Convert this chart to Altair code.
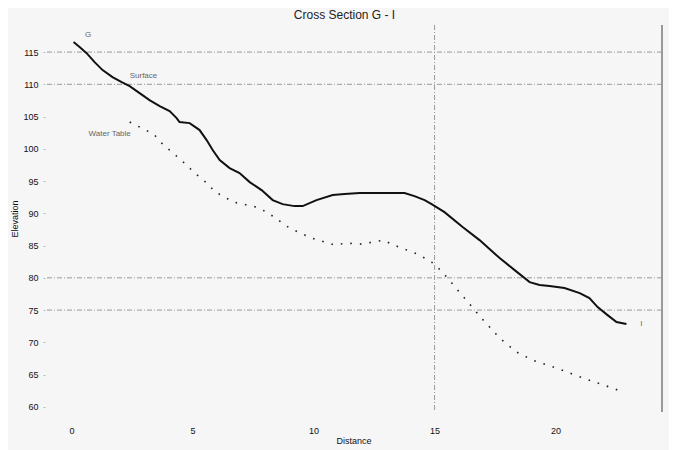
import altair as alt
import pandas as pd

# Surface profile (distance, elevation)
surf_x = [0.08, 0.33, 0.62, 0.95, 1.28, 1.69, 2.07, 2.40, 2.81, 3.22, 3.64, 4.05, 4.34, 4.46, 4.88,
          5.29, 5.58, 5.83, 6.12, 6.53, 6.94, 7.36, 7.85, 8.31, 8.72, 9.21, 9.55, 10.12, 10.79, 11.28,
          11.90, 12.73, 13.76, 14.17, 14.59, 14.88, 15.41, 16.16, 16.86, 17.69, 18.31, 18.93, 19.34,
          19.75, 20.37, 21.00, 21.40, 21.74, 22.15, 22.52, 22.93]
surf_y = [116.55, 115.78, 114.84, 113.45, 112.21, 111.12, 110.35, 109.73, 108.64, 107.56, 106.63,
          105.85, 104.77, 104.15, 103.99, 102.91, 101.36, 99.81, 98.26, 97.02, 96.24, 94.84, 93.60,
          92.05, 91.43, 91.12, 91.12, 92.05, 92.83, 92.98, 93.14, 93.14, 93.14, 92.67, 92.05, 91.43,
          90.19, 87.87, 85.85, 83.06, 81.20, 79.34, 78.88, 78.72, 78.41, 77.64, 76.86, 75.47, 74.22,
          73.14, 72.83]

# Water table (dotted)
wt_x = [2.40, 3.39, 3.76, 4.05, 4.71, 5.04, 5.54, 5.95, 6.40, 6.69, 7.64, 8.06, 8.31, 9.01, 9.92,
        10.87, 11.36, 11.98, 12.89, 13.22, 13.64, 14.30, 14.88, 15.33, 15.50, 16.94, 17.69, 18.39,
        19.05, 20.04, 20.70, 21.61, 22.36, 22.77]
wt_y = [104.15, 102.29, 100.74, 99.81, 97.64, 96.40, 94.84, 93.29, 92.36, 91.74, 90.97, 90.19, 89.57,
        87.71, 86.16, 85.08, 85.39, 85.23, 85.85, 85.23, 84.61, 83.68, 82.44, 80.89, 80.12, 73.76,
        70.66, 68.49, 67.25, 66.01, 65.08, 63.84, 62.91, 62.29]

# Reference lines
h_lines = [115, 110, 80, 75]
v_lines = [15]

x_ticks = [0, 5, 10, 15, 20]
y_ticks = [60, 65, 70, 75, 80, 85, 90, 95, 100, 105, 110, 115]
x_domain = [-1.1, 24.4]
y_domain = [59.2, 119.2]

# Annotations
ann_text = ["Surface", "Water Table", "G", "I"]
ann_x = [2.4, 0.7, 0.55, 23.5]
ann_y = [111.3, 102.3, 117.6, 72.9]

surf = pd.DataFrame({"x": surf_x, "y": surf_y})
wt = pd.DataFrame({"x": wt_x, "y": wt_y})
hl = pd.DataFrame({"y": h_lines})
vl = pd.DataFrame({"x": v_lines})
ann = pd.DataFrame({"t": ann_text, "x": ann_x, "y": ann_y})
edge = pd.DataFrame({"x": [x_domain[1]]})

xs = alt.Scale(domain=x_domain, nice=False, zero=False)
ys = alt.Scale(domain=y_domain, nice=False, zero=False)

xax = alt.Axis(values=x_ticks, format="d", grid=False, domain=False, ticks=False,
               labelFontSize=9, labelColor="#111", labelPadding=14, labelOverlap=False,
               title="Distance", titleFontSize=9, titleFontWeight="normal",
               titleColor="#111", titlePadding=1)
yax = alt.Axis(values=y_ticks, format="d", grid=False, domain=False, tickSize=2,
               tickColor="#bbb", labelFontSize=9, labelColor="#111", labelPadding=5,
               labelOverlap=False,
               title="Elevation", titleFontSize=9, titleFontWeight="normal",
               titleColor="#111", titlePadding=3)

X = lambda: alt.X("x:Q", scale=xs, axis=xax)
Y = lambda: alt.Y("y:Q", scale=ys, axis=yax)

dash = [5, 2, 1, 2]

hrule = alt.Chart(hl).mark_rule(color="#9a9a9a", strokeWidth=1, strokeDash=dash).encode(y=Y())
vrule = alt.Chart(vl).mark_rule(color="#9a9a9a", strokeWidth=1, strokeDash=dash).encode(x=X())
edge_rule = alt.Chart(edge).mark_rule(color="#999", strokeWidth=2).encode(x=X())

surf_line = alt.Chart(surf).mark_line(color="#111", strokeWidth=2).encode(x=X(), y=Y())
wt_line = alt.Chart(wt).mark_line(color="#222", strokeWidth=1.6, strokeDash=[1.6, 8]).encode(
    x=X(), y=Y())

labels = alt.Chart(ann).mark_text(align="left", fontSize=8, color="#666",
                                  font="Liberation Sans").encode(x=X(), y=Y(), text="t:N")

chart = alt.layer(hrule, vrule, edge_rule, wt_line, surf_line, labels).properties(
    width=617, height=387,
    title=alt.TitleParams("Cross Section G - I", fontSize=12, fontWeight="normal",
                          color="#222", font="Liberation Sans", offset=2, dx=-9),
    background="#f6f6f6",
    padding={"left": 37, "top": 17, "right": 7, "bottom": 40},
    autosize=alt.AutoSizeParams(type="none"),
).configure_axis(labelFont="Liberation Sans", titleFont="Liberation Sans").configure_view(
    stroke=None)

chart.save("out.html", embed_options={"renderer": "svg", "actions": False})
